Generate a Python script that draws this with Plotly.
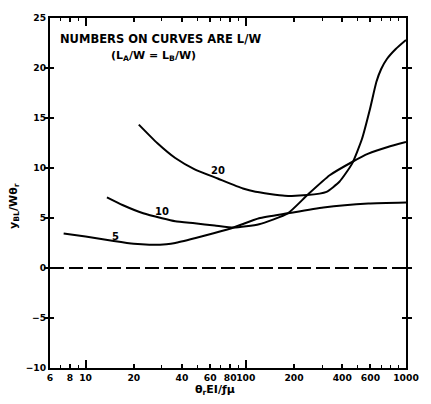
import plotly.graph_objects as go
import math

# ---- data ----
c5_x = [7.3, 10, 15, 20, 25, 32, 36.3, 48, 63, 84, 121, 183, 305, 582, 1000]
c5_y = [3.45, 3.15, 2.7, 2.42, 2.33, 2.38, 2.5, 2.98, 3.48, 4.05, 4.97, 5.47, 6.06, 6.46, 6.56]

c10_x = [13.6, 17, 22.9, 30, 36.3, 48, 64, 84, 121, 183, 242, 334, 461, 582, 770, 1000]
c10_y = [7.06, 6.3, 5.47, 4.97, 4.67, 4.47, 4.25, 4.05, 4.37, 5.47, 7.29, 9.27, 10.6, 11.43, 12.1, 12.6]

c20_x = [21.5, 28, 36.3, 48, 66.8, 96, 115, 175, 242, 319, 384, 461, 531, 596, 653, 700, 760, 863, 1000]
c20_y = [14.34, 12.5, 11.0, 9.87, 8.95, 7.95, 7.62, 7.23, 7.29, 7.62, 8.62, 10.44, 12.9, 15.9, 18.6, 19.9, 20.9, 21.9, 22.8]

zero_x = [6, 1000]
zero_y = [0, 0]

curve_labels = ["5", "10", "20"]
label_x = [15.4, 30.2, 66.8]
label_y = [3.2, 5.67, 9.74]

x_tickvals = [6, 8, 10, 20, 40, 60, 80, 100, 200, 400, 600, 1000]
x_ticktext = [str(v) for v in x_tickvals]
x_minor = [7, 9, 30, 50, 70, 90, 300, 500, 700, 800, 900]
x_decades = [10, 100, 1000]
y_tickvals = [-10, -5, 0, 5, 10, 15, 20, 25]

FONT = "DejaVu Sans"
tickfont = dict(family=FONT, size=9.2, color="black", weight="bold")

fig = go.Figure()
line = dict(color="black", width=2, shape="spline", smoothing=0.5)
fig.add_trace(go.Scatter(x=c5_x, y=c5_y, mode="lines", line=line, showlegend=False))
fig.add_trace(go.Scatter(x=c10_x, y=c10_y, mode="lines", line=line, showlegend=False))
fig.add_trace(go.Scatter(x=c20_x, y=c20_y, mode="lines", line=line, showlegend=False))
fig.add_trace(go.Scatter(x=zero_x, y=zero_y, mode="lines", xaxis="x2",
                         line=dict(color="black", width=1.8, dash="14px,5px"),
                         showlegend=False))

for t, lx, ly in zip(curve_labels, label_x, label_y):
    fig.add_annotation(x=math.log10(lx), y=ly, text=t, showarrow=False,
                       font=dict(family=FONT, size=10, color="black", weight="bold"),
                       xanchor="center", yanchor="middle")

rng = [math.log10(6), 3]
fig.update_layout(
    width=431, height=404,
    margin=dict(l=50, r=12, t=16, b=36),
    paper_bgcolor="white", plot_bgcolor="white",
    xaxis=dict(type="log", range=rng, tickmode="array", tickvals=x_tickvals,
               ticktext=x_ticktext, ticks="inside", ticklen=4, tickwidth=1.5,
               tickcolor="black", tickangle=0, showline=True, linewidth=2,
               linecolor="black", mirror="allticks", showgrid=False, zeroline=False,
               tickfont=tickfont,
               minor=dict(tickmode="array", tickvals=x_minor, ticks="inside",
                          ticklen=3, tickwidth=1.2, tickcolor="black", showgrid=False)),
    xaxis2=dict(type="log", range=rng, overlaying="x", side="bottom",
                tickmode="array", tickvals=x_decades, ticks="inside", ticklen=8,
                tickwidth=1.8, tickcolor="black", showticklabels=False,
                showline=False, mirror="allticks", showgrid=False, zeroline=False),
    yaxis=dict(range=[-10, 25], tickmode="array", tickvals=y_tickvals,
               ticks="inside", ticklen=4, tickwidth=1.5, tickcolor="black",
               showline=True, linewidth=2, linecolor="black", mirror="allticks",
               showgrid=False, zeroline=False, tickfont=tickfont),
)

fig.add_annotation(xref="paper", yref="paper", x=0.31, y=0.94,
                   text="NUMBERS ON CURVES ARE L/W", showarrow=False,
                   font=dict(family=FONT, size=11.5, color="black", weight="bold"),
                   xanchor="center", yanchor="middle")
fig.add_annotation(xref="paper", yref="paper", x=0.29, y=0.89,
                   text="(L<sub>A</sub>/W = L<sub>B</sub>/W)", showarrow=False,
                   font=dict(family=FONT, size=11, color="black", weight="bold"),
                   xanchor="center", yanchor="middle")
fig.add_annotation(xref="paper", yref="paper", x=0, y=0.463, xshift=-36,
                   text="y<sub>BL</sub>/Wθ<sub>r</sub>", textangle=-90, showarrow=False,
                   font=dict(family=FONT, size=11, color="black", weight="bold"),
                   xanchor="center", yanchor="middle")
fig.add_annotation(xref="paper", yref="paper", x=0.463, y=0, yshift=-22,
                   text="θ<sub>r</sub>EI/ƒμ", showarrow=False,
                   font=dict(family=FONT, size=11, color="black", weight="bold"),
                   xanchor="center", yanchor="middle")

fig.write_html("out.html")
